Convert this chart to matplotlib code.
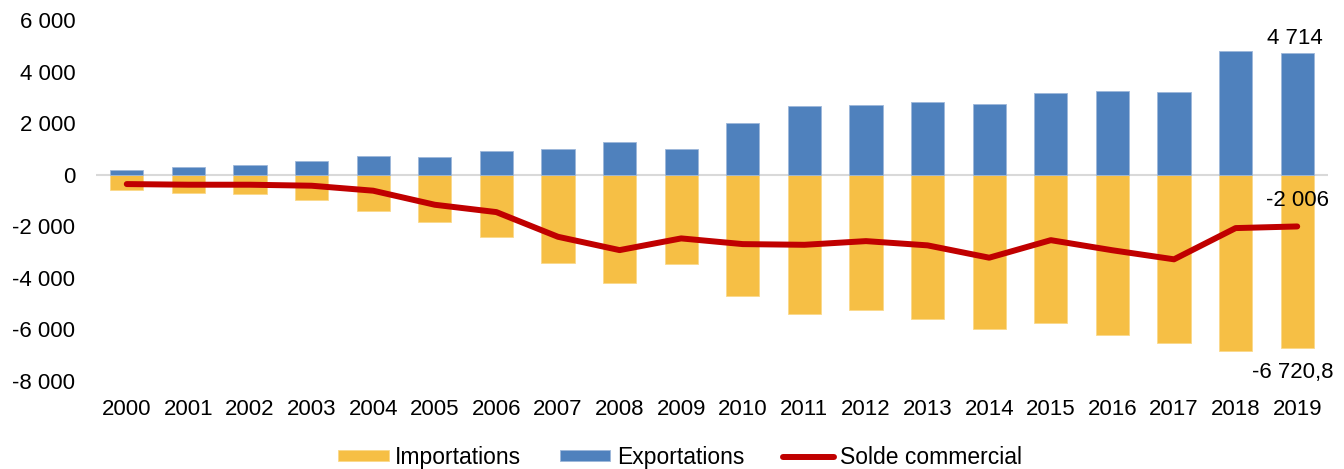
import matplotlib.pyplot as plt
import numpy as np
from matplotlib.ticker import FuncFormatter

years = [str(y) for y in range(2000, 2020)]
exportations = [194, 300, 377, 544, 738, 687, 905, 998, 1258, 998,
                2008, 2668, 2707, 2808, 2730, 3184, 3262, 3196, 4780, 4714]
importations = [-583, -711, -764, -983, -1398, -1845, -2408, -3429, -4194, -3468,
                -4684, -5410, -5254, -5590, -5975, -5756, -6225, -6510, -6834, -6720.8]
solde = [-363, -388, -388, -427, -620, -1165, -1450, -2407, -2924, -2470,
         -2691, -2718, -2575, -2740, -3218, -2538, -2930, -3281, -2070, -2006]

plt.rcParams['font.family'] = ['Liberation Sans', 'DejaVu Sans']

def fmt(v, pos=None):
    s = '{:,.0f}'.format(abs(v)).replace(',', ' ')
    return ('-' if v < 0 else '') + s

def main():
    fig = plt.figure(figsize=(13.44, 4.69), dpi=100)
    ax = fig.add_axes([0.0714, 0.1876, 0.9167, 0.7698])
    x = np.arange(len(years))
    w = 0.54
    fs = 16
    ax.bar(x, importations, w, color='#F6BF45', edgecolor='#FBD98A', linewidth=0.6,
           label='Importations', zorder=2)
    ax.bar(x, exportations, w, color='#4F81BD', edgecolor='#9DB7DA', linewidth=0.6,
           label='Exportations', zorder=2)
    ax.axhline(0, color='#D9D9D9', lw=1.5, zorder=1)
    ax.plot(x, solde, color='#C00000', lw=4.3, solid_capstyle='round',
            label='Solde commercial', zorder=3)

    ax.set_xlim(-0.5, len(years) - 0.5)
    ax.set_ylim(-8000, 6000)
    ax.set_yticks(range(-8000, 6001, 2000))
    ax.yaxis.set_major_formatter(FuncFormatter(fmt))
    ax.set_xticks(x)
    ax.set_xticklabels(years)
    ax.tick_params(length=0, labelsize=fs, colors='black')
    ax.tick_params(axis='y', pad=15)
    ax.tick_params(axis='x', pad=13)
    for s in ax.spines.values():
        s.set_visible(False)

    last = len(years) - 1
    ax.annotate(fmt(exportations[-1]), (x[last], exportations[-1]), xytext=(-2, 3),
                textcoords='offset points', ha='center', va='bottom', fontsize=fs)
    ax.annotate(fmt(solde[-1]), (x[last], solde[-1]), xytext=(0, 11),
                textcoords='offset points', ha='center', va='bottom', fontsize=fs)
    ax.annotate('-6 720,8', (x[last], importations[-1]), xytext=(-3, -10),
                textcoords='offset points', ha='center', va='top', fontsize=fs)

    h, l = ax.get_legend_handles_labels()
    order = [1, 2, 0]
    fig.legend([h[i] for i in order], [l[i] for i in order], loc='center',
               bbox_to_anchor=(0.506, 0.025), ncol=3, frameon=False, fontsize=16.5,
               handlelength=2.2, handleheight=0.4, columnspacing=1.7, handletextpad=0.28)
    fig.savefig('out.png', dpi=100)
    plt.close()


if __name__ == "__main__":
    main()
